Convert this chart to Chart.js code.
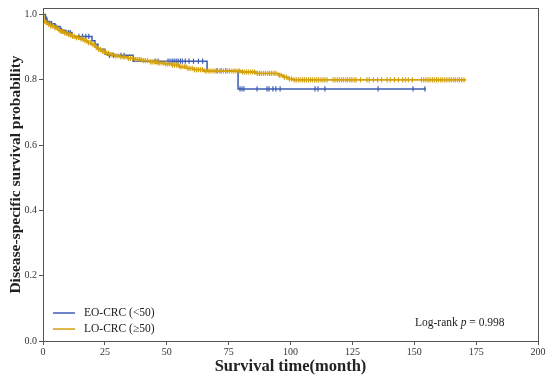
<!DOCTYPE html>
<html>
<head>
<meta charset="utf-8">
<script src="https://cdn.jsdelivr.net/npm/chart.js@4.4.1/dist/chart.umd.min.js"></script>
<style>
  html, body { margin: 0; padding: 0; background: #fff; }
  #wrap { width: 550px; height: 377px; position: relative; }
</style>
</head>
<body>
<div id="wrap"><canvas id="kmChart"></canvas></div>
<script>
// Kaplan-Meier steps (months, survival)
const eoTimes = [0, 1.0, 1.6, 2.8, 4.8, 6.9, 8.9, 11.7, 19.8, 21, 22.2, 25, 26.3, 36.4, 66.3, 78.8, 154.7];
const eoSurv = [1.0, 0.986, 0.979, 0.972, 0.963, 0.952, 0.945, 0.933, 0.92, 0.909, 0.894, 0.879, 0.875, 0.857, 0.828, 0.772, 0.772];
const eoCensored = [1.5, 3.5, 5.2, 7.5, 9.5, 10.3, 11, 14.5, 16, 17.3, 18.5, 26.8, 28.5, 31.5, 32.8,
  45.3, 46.5, 50.5, 51.3, 52.2, 53, 53.8, 54.6, 55.5, 56.3, 57.5, 59, 60.8, 62.8, 64.5,
  70.3, 72, 73.8, 79.6, 80.4, 81.2, 86.5, 90.5, 91.3, 92.9, 94.1, 95.8, 109.9, 111.1, 113.9,
  135.4, 149.5, 154.3];

const loTimes = [0, 0.3, 1, 2, 3, 4.5, 6, 7, 8.5, 10, 11.5, 13, 15, 16.5, 18, 19.5, 21, 22, 23.5, 25,
  27, 29, 31, 34, 37, 40, 43, 46, 49, 52, 55, 58, 61, 65, 80, 86, 95, 97, 99, 101, 171];
const loSurv = [1.0, 0.98, 0.975, 0.97, 0.965, 0.96, 0.953, 0.948, 0.943, 0.938, 0.933, 0.929, 0.925,
  0.92, 0.914, 0.908, 0.9, 0.893, 0.887, 0.882, 0.877, 0.873, 0.87, 0.866, 0.862, 0.859, 0.855,
  0.852, 0.849, 0.845, 0.84, 0.835, 0.831, 0.827, 0.824, 0.82, 0.814, 0.808, 0.803, 0.80, 0.80];
const loCensored = [0.5, 1.4, 2.3, 3.1, 3.8, 4.9, 5.6, 6.4, 7.3, 7.9, 8.8, 9.6, 10.4, 11.1, 12.0, 12.7,
  13.5, 14.3, 15.4, 16.1, 16.9, 17.6, 18.4, 19.1, 20.2, 20.8, 21.5, 22.5, 23.2, 24.1, 24.7, 25.6,
  26.4, 27.5, 28.2, 29.4, 30.3, 31.5, 32.4, 33.1, 34.5, 35.3, 36.2, 37.4, 38.1, 38.9, 39.6, 40.5,
  41.3, 42.2, 43.4, 44.1, 44.9, 45.7, 46.5, 47.2, 48.1, 48.8, 49.6, 50.4, 51.2, 52.3, 53.1, 53.9,
  54.6, 55.4, 56.2, 57.1, 57.8, 58.6, 59.4, 60.3, 61.2, 62.0, 62.8, 63.6, 64.4, 65.5, 66.2, 67.0,
  67.8, 68.7, 69.5, 70.4, 71.2, 72.1, 72.9, 73.8, 74.6, 75.4, 76.3, 77.1, 77.9, 78.8, 79.5, 80.6,
  81.3, 82.2, 83.0, 83.9, 84.7, 85.5, 86.6, 87.4, 88.2, 89.1, 89.9, 90.8, 91.6, 92.4, 93.3, 94.1,
  95.5, 96.2, 97.5, 98.3, 99.5, 100.4, 101.5, 102.3, 103.1, 103.9, 104.8, 105.6, 106.4, 107.3,
  108.1, 108.9, 109.8, 110.6, 111.4, 112.3, 113.1, 113.9, 114.8, 117.2, 118.0, 118.9, 119.7,
  120.6, 121.4, 122.3, 123.1, 124.0, 124.8, 125.7, 126.5, 128.3, 130.9, 131.8, 133.5, 135.2,
  136.8, 139.1, 140.3, 142.0, 143.6, 145.3, 146.4, 147.6, 149.2, 152.9, 153.8, 154.7, 155.6,
  156.4, 157.3, 158.1, 159.0, 159.8, 160.7, 161.5, 162.4, 163.2, 164.1, 164.9, 165.8, 166.6,
  167.5, 168.3, 169.2, 170.1];

const groupLabels = ["EO-CRC (<50)", "LO-CRC (\u226550)"];
const groupColors = ["#3d5cb4", "#d3a20e"];
const xTicks = [0, 25, 50, 75, 100, 125, 150, 175, 200];
const yTicks = [0, 0.2, 0.4, 0.6, 0.8, 1.0];
const pValue = "0.998";

function survAt(times, surv, t) {
  let s = surv[0];
  for (let i = 0; i < times.length; i++) {
    if (times[i] <= t) s = surv[i];
  }
  return s;
}
function steps(times, surv) {
  return times.map((t, i) => ({ x: t, y: surv[i] }));
}
function marks(times, surv, cens) {
  return cens.map((t) => ({ x: t, y: survAt(times, surv, t) }));
}

const serif = "'Liberation Serif', 'DejaVu Serif', serif";

const boxPlugin = {
  id: "boxAndNotes",
  afterDraw(chart) {
    const { ctx, chartArea: a } = chart;
    ctx.save();
    ctx.strokeStyle = "#555";
    ctx.lineWidth = 1;
    ctx.strokeRect(a.left + 0.5, a.top + 0.5, a.right - a.left, a.bottom - a.top);

    // legend inside the plot
    ctx.font = "11.5px " + serif;
    ctx.textBaseline = "middle";
    groupLabels.forEach((lab, i) => {
      const y = a.bottom - 28 + i * 16;
      ctx.strokeStyle = groupColors[i];
      ctx.lineWidth = 1.5;
      ctx.beginPath();
      ctx.moveTo(a.left + 10, y);
      ctx.lineTo(a.left + 32, y);
      ctx.stroke();
      ctx.fillStyle = "#222";
      ctx.fillText(lab, a.left + 41, y);
    });

    // log-rank note
    const ty = a.bottom - 18;
    let tx = 415;
    ctx.fillStyle = "#222";
    ctx.font = "11.5px " + serif;
    ctx.fillText("Log-rank ", tx, ty);
    tx += ctx.measureText("Log-rank ").width;
    ctx.font = "italic 11.5px " + serif;
    ctx.fillText("p", tx, ty);
    tx += ctx.measureText("p").width;
    ctx.font = "11.5px " + serif;
    ctx.fillText(" = " + pValue, tx, ty);
    ctx.restore();
  }
};

const config = {
  type: "line",
  data: {
    datasets: [
      {
        label: groupLabels[1],
        data: marks(loTimes, loSurv, loCensored),
        showLine: false,
        pointStyle: "line",
        rotation: 90,
        pointRadius: 2.6,
        borderWidth: 1.2,
        borderColor: groupColors[1],
        order: 1,
      },
      {
        label: groupLabels[1],
        data: steps(loTimes, loSurv),
        stepped: true,
        borderColor: groupColors[1],
        borderWidth: 1.8,
        pointRadius: 0,
        order: 2,
      },
      {
        label: groupLabels[0],
        data: marks(eoTimes, eoSurv, eoCensored),
        showLine: false,
        pointStyle: "line",
        rotation: 90,
        pointRadius: 2.6,
        borderWidth: 1.2,
        borderColor: groupColors[0],
        order: 3,
      },
      {
        label: groupLabels[0],
        data: steps(eoTimes, eoSurv),
        stepped: true,
        borderColor: groupColors[0],
        borderWidth: 1.5,
        pointRadius: 0,
        order: 4,
      },
    ],
  },
  options: {
    responsive: true,
    maintainAspectRatio: false,
    animation: false,
    layout: { padding: { left: 0, right: 12, top: 5, bottom: 0 } },
    plugins: {
      legend: { display: false },
      tooltip: { enabled: false },
    },
    scales: {
      x: {
        type: "linear",
        min: 0,
        max: 200,
        afterBuildTicks: (s) => { s.ticks = xTicks.map((v) => ({ value: v })); },
        afterFit: (s) => { s.height = 36; },
        grid: { drawOnChartArea: false, drawTicks: true, tickLength: 4, color: "#555" },
        border: { display: true, color: "#555" },
        ticks: { color: "#333", font: { family: serif, size: 10 }, padding: 1, maxRotation: 0 },
        title: {
          display: true,
          text: "Survival time(month)",
          color: "#222",
          font: { family: serif, size: 16.5, weight: "bold" },
          padding: { top: 0, bottom: 0 },
        },
      },
      y: {
        type: "linear",
        min: 0,
        max: 1.02,
        afterBuildTicks: (s) => { s.ticks = yTicks.map((v) => ({ value: v })); },
        afterFit: (s) => { s.width = 43; },
        grid: { drawOnChartArea: false, drawTicks: true, tickLength: 4, color: "#555" },
        border: { display: true, color: "#555" },
        ticks: {
          color: "#333",
          font: { family: serif, size: 10 },
          padding: 2,
          callback: (v) => v.toFixed(1),
        },
        title: {
          display: true,
          text: "Disease-specific survival probability",
          color: "#222",
          font: { family: serif, size: 15.5, weight: "bold" },
          padding: { top: 7, bottom: 0 },
        },
      },
    },
  },
  plugins: [boxPlugin],
};

var kmChart = new Chart(document.getElementById("kmChart"), config);
</script>
</body>
</html>
